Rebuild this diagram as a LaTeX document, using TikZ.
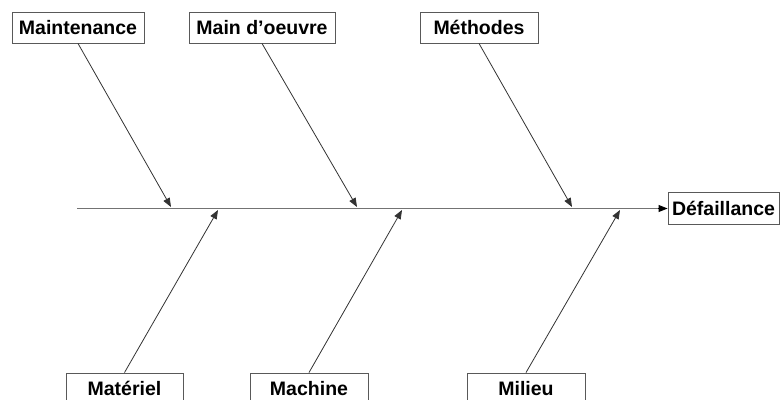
\documentclass[tikz,border=0pt]{standalone}
\usepackage{fontspec}
\setmainfont{Liberation Sans}
\usetikzlibrary{arrows.meta}
\begin{document}
\begin{tikzpicture}[x=1pt,y=-1pt,
  cause/.style={draw=black!65, line width=0.9pt, fill=white, inner sep=0pt,
    minimum height=31pt, font=\fontsize{19.5}{22}\selectfont\bfseries},
  bone/.style={draw=black!80, line width=0.8pt, -{Triangle[length=9pt,width=7pt]}},
  spine/.style={draw=black!55, line width=1.4pt}]
  \useasboundingbox (0,0) rectangle (784,399);
  \clip (0,0) rectangle (784,399);

  % effect and main spine
  \node[cause, minimum width=111pt, minimum height=32pt] (eff) at (723.5,208.5) {Défaillance};
  \coordinate (tail) at (77,208.5);
  \coordinate (head) at (658,208.5);
  \draw[spine] (tail) -- (head);
  \draw[draw=black, line width=0.9pt, -{Triangle[length=9pt,width=7pt]}] (head) -- (eff.west);

  % upper causes
  \node[cause, minimum width=132pt] (c1) at (78,27.5) {Maintenance};
  \node[cause, minimum width=146pt] (c2) at (262,27.5) {Main d’oeuvre};
  \node[cause, minimum width=118pt] (c3) at (479,27.5) {Méthodes};

  % lower causes
  \node[cause, minimum width=117pt] (c4) at (124.5,388.5) {Matériel};
  \node[cause, minimum width=118pt] (c5) at (309,388.5) {Machine};
  \node[cause, minimum width=118pt] (c6) at (526,388.5) {Milieu};

  % points where the bones meet the spine
  \coordinate (s1) at (171,207);
  \coordinate (s2) at (357,207);
  \coordinate (s3) at (572,207);
  \coordinate (s4) at (218,210);
  \coordinate (s5) at (402,210);
  \coordinate (s6) at (620,210);

  \draw[bone] (c1.south) -- (s1);
  \draw[bone] (c2.south) -- (s2);
  \draw[bone] (c3.south) -- (s3);
  \draw[bone] (c4.north) -- (s4);
  \draw[bone] (c5.north) -- (s5);
  \draw[bone] (c6.north) -- (s6);
\end{tikzpicture}
\end{document}
